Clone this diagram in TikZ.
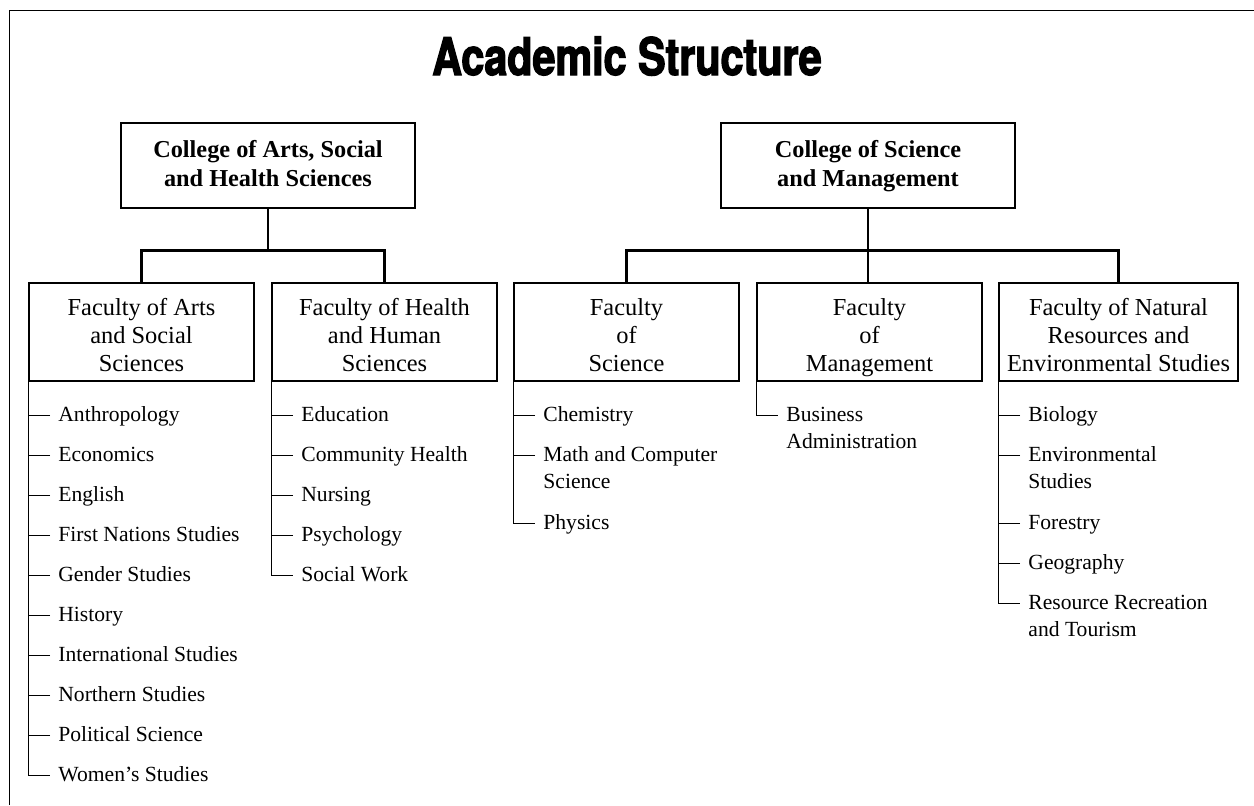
\documentclass[tikz,border=0pt]{standalone}
\usepackage{fontspec}
\setmainfont{Liberation Serif}
\newfontfamily\headfont[FakeStretch=0.8,FakeBold=2.5]{TeX Gyre Heros}
\tikzset{
  college/.style={draw, line width=0.6pt, align=center, inner sep=0pt,
    minimum width=147pt, minimum height=42.5pt, text height=23.5pt, text depth=3pt,
    font=\fontsize{12.15pt}{14.5pt}\selectfont\bfseries},
  faculty/.style={draw, line width=0.6pt, align=center, inner sep=0pt,
    minimum width=112.5pt, minimum height=49pt, text height=42pt, text depth=3pt,
    font=\fontsize{12.2pt}{14pt}\selectfont},
  dept/.style={anchor=base west, align=left, inner xsep=4pt, inner ysep=0pt,
    font=\fontsize{10.8pt}{13.5pt}\selectfont},
  link/.style={line width=1.1pt},
  tick/.style={line width=0.5pt},
}

\begin{document}
\begin{tikzpicture}[x=0.5pt, y=-0.5pt]
\useasboundingbox (0,0) rectangle (1254,805);
% Frame and title:
\draw[line width=0.5pt] (9,805) |- (1254,10);
\node (title) [anchor=base, font={\headfont\bfseries\fontsize{25.8pt}{30pt}\selectfont}] at (627,75) {Academic Structure};
% Colleges:
\node (cash) [college] at (268,165.5) {College of Arts, Social\\and Health Sciences};
\node (csm) [college] at (868,165.5) {College of Science\\and Management};
% Faculties:
\node (fass) [faculty] at (141.5,332) {Faculty of Arts\\and Social\\Sciences};
\node (fhhs) [faculty] at (384.5,332) {Faculty of Health\\and Human\\Sciences};
\node (fsci) [faculty] at (626.5,332) {Faculty\\of\\Science};
\node (fmgt) [faculty] at (869.5,332) {Faculty\\of\\Management};
\node (fnres) [faculty, minimum width=119.5pt] at (1118.5,332) {Faculty of Natural\\Resources and\\Environmental Studies};
\draw[link] (cash.south) -- ++(0,43);
\draw[link] (fass.north) -- ++(0,-32) -| (fhhs.north);
\draw[link] (csm.south) -- (csm.south |- fmgt.north);
\draw[link] (fsci.north) -- ++(0,-32) -| (fnres.north);
% Departments, Arts and Social Sciences:
\node (anth) [dept] at (50,421) {Anthropology};
\node (econ) [dept] at (50,461) {Economics};
\node (engl) [dept] at (50,501) {English};
\node (fnst) [dept] at (50,541) {First Nations Studies};
\node (gend) [dept] at (50,581) {Gender Studies};
\node (hist) [dept] at (50,621) {History};
\node (intl) [dept] at (50,661) {International Studies};
\node (nort) [dept] at (50,701) {Northern Studies};
\node (poli) [dept] at (50,741) {Political Science};
\node (wmns) [dept] at (50,781) {Women’s Studies};
\draw[tick] (fass.south west) |- ([yshift=3pt]wmns.base west)
  ([yshift=3pt]anth.base west) -- ++(-21,0) ([yshift=3pt]econ.base west) -- ++(-21,0)
  ([yshift=3pt]engl.base west) -- ++(-21,0) ([yshift=3pt]fnst.base west) -- ++(-21,0)
  ([yshift=3pt]gend.base west) -- ++(-21,0) ([yshift=3pt]hist.base west) -- ++(-21,0)
  ([yshift=3pt]intl.base west) -- ++(-21,0) ([yshift=3pt]nort.base west) -- ++(-21,0)
  ([yshift=3pt]poli.base west) -- ++(-21,0);
% Health and Human Sciences:
\node (educ) [dept] at (293,421) {Education};
\node (cmhl) [dept] at (293,461) {Community Health};
\node (nurs) [dept] at (293,501) {Nursing};
\node (psyc) [dept] at (293,541) {Psychology};
\node (socw) [dept] at (293,581) {Social Work};
\draw[tick] (fhhs.south west) |- ([yshift=3pt]socw.base west)
  ([yshift=3pt]educ.base west) -- ++(-21,0) ([yshift=3pt]cmhl.base west) -- ++(-21,0)
  ([yshift=3pt]nurs.base west) -- ++(-21,0) ([yshift=3pt]psyc.base west) -- ++(-21,0);
% Science (two-line names: base is on the last line):
\node (chem) [dept] at (535,421) {Chemistry};
\node (mcs) [dept] at (535,488) {Math and Computer\\Science};
\node (phys) [dept] at (535,529) {Physics};
\draw[tick] (fsci.south west) |- ([yshift=3pt]phys.base west)
  ([yshift=3pt]chem.base west) -- ++(-21,0) ([yshift=16.5pt]mcs.base west) -- ++(-21,0);
% Management:
\node (busa) [dept] at (778,448) {Business\\Administration};
\draw[tick] (fmgt.south west) |- ([yshift=16.5pt]busa.base west);
% Natural Resources and Environmental Studies:
\node (biol) [dept] at (1020,421) {Biology};
\node (envs) [dept] at (1020,488) {Environmental\\Studies};
\node (fors) [dept] at (1020,529) {Forestry};
\node (geog) [dept] at (1020,569) {Geography};
\node (rrt) [dept] at (1020,636) {Resource Recreation\\and Tourism};
\draw[tick] (fnres.south west) |- ([yshift=16.5pt]rrt.base west)
  ([yshift=3pt]biol.base west) -- ++(-21,0) ([yshift=16.5pt]envs.base west) -- ++(-21,0)
  ([yshift=3pt]fors.base west) -- ++(-21,0) ([yshift=3pt]geog.base west) -- ++(-21,0);
\end{tikzpicture}
\end{document}
